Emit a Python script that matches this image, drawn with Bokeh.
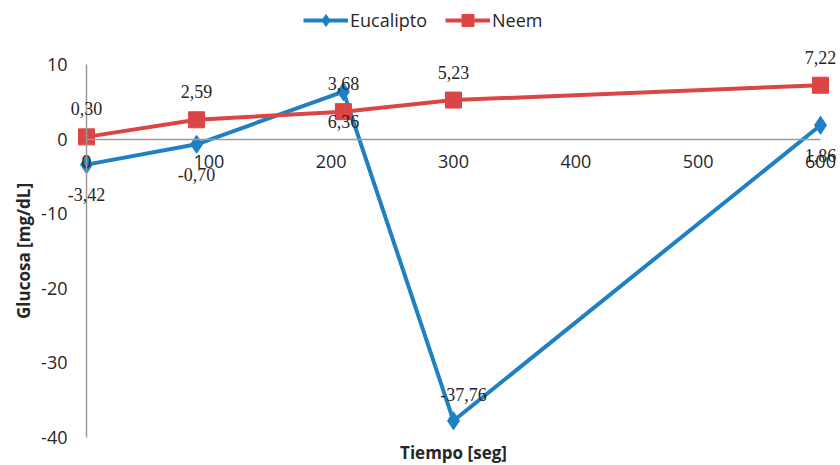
from bokeh.plotting import figure
from bokeh.models import (Range1d, FixedTicker, Legend, LegendItem, LabelSet,
                          ColumnDataSource, Label, CustomJSTickFormatter)
from bokeh.embed import file_html
from bokeh.resources import INLINE

# ---- data ----
tiempo = [0, 90, 210, 300, 600]
eucalipto = [-3.42, -0.70, 6.36, -37.76, 1.86]
neem = [0.30, 2.59, 3.68, 5.23, 7.22]
x_ticks = [0, 100, 200, 300, 400, 500, 600]
y_ticks = [-40, -30, -20, -10, 0, 10]
series_names = ["Eucalipto", "Neem"]
x_title = "Tiempo [seg]"
y_title = "Glucosa [mg/dL]"

BLUE = "#1f80c4"
RED = "#dc4545"
TXT = "#262626"
AX = "#9a9a9a"
FONT = "Open Sans"
FS = "18px"

W, H = 840, 465
# plot area of the reference: x 0..600 -> px 86..820, y 10..-40 -> px 64..437
PX_L, PX_R, PY_T, PY_B = 86, 820, 64, 437
x0, x1 = min(x_ticks), max(x_ticks)
y0, y1 = min(y_ticks), max(y_ticks)
kx = (x1 - x0) / (PX_R - PX_L)
ky = (y1 - y0) / (PY_B - PY_T)
x_range = Range1d(x0 - PX_L * kx, x1 + (W - PX_R) * kx)
y_range = Range1d(y0 - (H - PY_B) * ky, y1 + PY_T * ky)

def fmt(v):
    return f"{v:.2f}".replace(".", ",")

p = figure(width=W, height=H, output_backend="svg", toolbar_location=None,
           x_range=x_range, y_range=y_range,
           min_border=0, min_border_left=0, min_border_right=0,
           min_border_top=0, min_border_bottom=0)
p.outline_line_color = None
p.xgrid.visible = False
p.ygrid.visible = False
p.background_fill_color = "white"
p.border_fill_color = "white"

# axes crossing at 0
for ax in (p.xaxis[0], p.yaxis[0]):
    ax.fixed_location = 0
    ax.axis_line_color = AX
    ax.axis_line_width = 1.5
    ax.major_tick_out = 0
    ax.major_tick_in = 0
    ax.minor_tick_out = 0
    ax.minor_tick_in = 0
    ax.major_label_text_font = FONT
    ax.major_label_text_font_size = FS
    ax.major_label_text_color = TXT
    ax.formatter = CustomJSTickFormatter(code="return String(tick);")

p.xaxis[0].ticker = FixedTicker(ticks=x_ticks)
p.xaxis[0].bounds = (x0, x1)
p.xaxis[0].major_label_standoff = 16

p.yaxis[0].ticker = FixedTicker(ticks=y_ticks)
p.yaxis[0].bounds = (y0, y1)
p.yaxis[0].major_label_standoff = 19
p.yaxis[0].axis_label = y_title
p.yaxis[0].axis_label_text_font = FONT
p.yaxis[0].axis_label_text_font_style = "bold"
p.yaxis[0].axis_label_text_font_size = "17px"
p.yaxis[0].axis_label_text_color = TXT
p.yaxis[0].axis_label_standoff = 3

src = ColumnDataSource(dict(
    x=tiempo, euc=eucalipto, neem=neem,
    euc_txt=[fmt(v) for v in eucalipto],
    neem_txt=[fmt(v) for v in neem],
    euc_dy=[26 if v == min(eucalipto) else -30 for v in eucalipto],
    euc_dx=[10 if v == min(eucalipto) else 0 for v in eucalipto],
))

l1 = p.line("x", "euc", source=src, line_color=BLUE, line_width=4)
s1 = p.scatter("x", "euc", source=src, marker="diamond", size=18,
               fill_color=BLUE, line_color=BLUE)
l2 = p.line("x", "neem", source=src, line_color=RED, line_width=4)
s2 = p.scatter("x", "neem", source=src, marker="square", size=16,
               fill_color=RED, line_color=RED)

lab1 = LabelSet(x="x", y="euc", text="euc_txt", source=src,
                x_offset="euc_dx", y_offset="euc_dy",
                text_align="center", text_baseline="middle",
                text_font=FONT, text_font_size=FS, text_color=TXT)
lab2 = LabelSet(x="x", y="neem", text="neem_txt", source=src,
                y_offset=28, text_align="center", text_baseline="middle",
                text_font=FONT, text_font_size=FS, text_color=TXT)
p.add_layout(lab1)
p.add_layout(lab2)

xt = Label(x=(x0 + x1) / 2, y=H - 452, y_units="screen",
           text=x_title, text_align="center", text_baseline="middle",
           text_font=FONT, text_font_style="bold", text_font_size="17px",
           text_color=TXT)
p.add_layout(xt)

legend = Legend(items=[LegendItem(label=series_names[0], renderers=[l1, s1]),
                       LegendItem(label=series_names[1], renderers=[l2, s2])],
                orientation="horizontal", location=(303, H - 35),
                padding=0, margin=0, spacing=18, label_standoff=2,
                glyph_width=45, glyph_height=30, label_height=30,
                label_text_font=FONT, label_text_font_size=FS,
                label_text_color=TXT, border_line_color=None,
                background_fill_alpha=0)
p.add_layout(legend, "center")

open("out.html", "w").write(file_html(p, INLINE))
